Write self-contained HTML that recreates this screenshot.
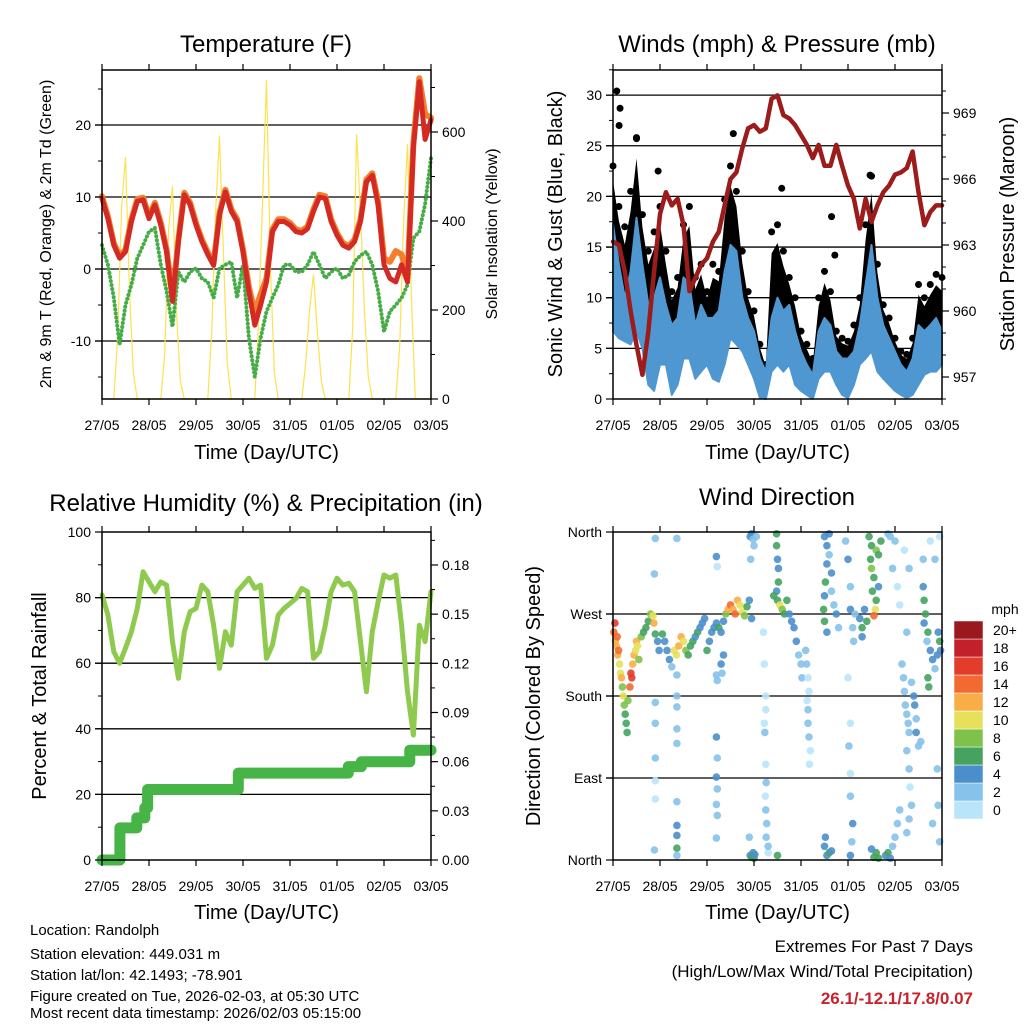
<!DOCTYPE html>
<html><head><meta charset="utf-8">
<style>
html,body{margin:0;padding:0;background:#fff;}
svg{display:block;font-family:"Liberation Sans",Arial,sans-serif;}
</style></head>
<body>
<svg id="root" width="1024" height="1024" viewBox="0 0 1024 1024" xmlns="http://www.w3.org/2000/svg"></svg>
<script>
// ---------- DATA (3-hour steps, day 0..7, 57 values) ----------
const tempRed = [9.8,7,3.3,1.5,2.4,6.6,9.4,9.6, 7,8.9,6.1,2.4,-4.5,3.8,10.3,8.9, 6.1,3.8,2,0.5,7.5,10.7,8,6.6, 2.4,-3.1,-7.8,-5,-1.8,5.2,6.6,6.6, 6.1,5.2,5,5.6,8,10,9.8,6.6, 4.7,3.3,2.9,3.8,6.6,12.1,13,8.9, 0.6,-1.3,-1.8,0.6,-1.8,16.8,26,18,20.7];
const tempOrange = [10.1,7.3,3.6,1.8,2.7,6.9,9.7,9.9, 7.3,9.2,6.4,2.7,-4,4.1,10.6,9.2, 6.4,4.1,2.3,0.8,7.8,11,8.3,6.9, 2.7,-2.5,-6,-3.5,-1.3,5.5,6.9,6.9, 6.4,5.5,5.3,5.9,8.3,10.3,10.1,6.9, 5,3.6,3.2,4.1,6.9,12.4,13.3,9.4, 1.5,1,2.5,2,-1,17.5,26.5,21.5,21];
const dewGreen = [3.3,0.6,-4,-10.5,-5,-2.2,1.5,3.3, 5.2,5.7,0.6,-3.1,-8,-0.4,-1.8,-0.4, 0.1,-1.3,-1.8,-4,0.1,0.6,1,-4, 0.6,-9.6,-15,-9.6,-5.9,-4,-2.2,0.6, 0.6,-0.4,-0.4,0.6,2.4,0.6,-1.3,-0.4, 0.1,-1.3,-0.8,1,1.9,2.4,0.6,-3.1, -8.7,-5.9,-5,-4,-2.2,4.3,5.2,9,15.4];
// solar insolation, 2-hour steps (85 values)
const solar = [0,0,0,0,140,430,544,250,60,0,0,0, 0,0,0,0,100,380,478,200,40,0,0,0, 0,0,0,0,150,420,590,330,80,0,0,0, 0,0,0,0,180,450,717,300,60,0,0,0, 0,0,0,0,80,200,280,150,40,0,0,0, 0,0,0,0,160,595,420,200,50,0,0,0, 0,0,0,0,120,400,573,230,0,0,0,0, 0];
const windHi = [17.2,13.3,10,12.6,17.9,13.3,9.3,10, 12,9.3,7.3,8,12,11.3,7.3,9.3, 8,8,8.7,12.6,15.2,14.6,10,8, 6.7,4,2.7,8,10,8.7,9.3,6.7, 4.7,3.4,2.4,6.7,8,7.3,4.7,4, 4,4.7,7.3,11.3,15.2,10,7.3,6, 4.7,3.4,2.7,4,7.3,6.7,7.3,8, 6.7];
const windLo = [6.7,6,5.7,5.4,6.7,5,1.4,0.8, 3.4,3.4,0.4,1.4,4,4,2,2.7, 3.4,2,1.7,3.4,6,5.4,4.7,3.4, 2,0.1,0,2.7,3.4,2.7,3.4,1.4, 0.8,0.4,0,2,2.7,2.7,1.4,0.4, 0.1,1.4,3.4,4,4.7,2.7,2,1.4, 0.8,0.4,0.1,0.4,1.4,2.4,2.7,2.7, 3.4];
const gustHi = [23,19,17,20.5,25.7,18.2,14.6,16.5, 19,14.6,10.6,12,17.2,19,12,13.3, 10.6,13.3,12.6,19.7,23,20.5,14.6,10.6, 8.7,5.4,3.4,16.5,17.2,14.6,12,10, 6.7,5.4,4,10,12.6,10.6,6.7,6, 5.7,7.3,10,17.2,22,13.3,9.3,8, 6,4.7,4.4,6,11.3,10,11.3,12.3, 12];
const gustOutlierDays = [0.08,0.15,0.13,0.5,0.96,2.56,3.59,4.65,4.72,5.47];
const gustOutlierMph = [30.4,28.7,27,25.8,22.5,26.2,20.8,18,14.2,22.1];
const pressure = [963.15,963,961.8,960,958.45,957.1,959.05,961.8, 964.4,965.4,964.8,965.1,963.9,960.9,961.5,962.1, 962.4,963.15,963.6,964.8,966,966.3,967.4,968.3, 968.45,968.15,968.3,969.65,969.8,968.9,968.75,968.45, 968,967.55,966.95,967.55,966.6,966.6,967.55,966.6, 965.7,965.1,963.75,965.1,964.05,964.8,965.4,965.7, 966.2,966.3,966.5,967.25,965.4,963.9,964.5,964.8, 964.8];
const humidity = [80.8,74.7,63.5,60,64.6,69.6,76.7,87.9, 84.8,81.8,84.8,83.8,66.6,55.4,69.6,75.7, 76.7,83.8,81.8,71.6,58.4,69.6,65.5,81.8, 83.8,85.9,82.8,83.8,61.5,65.5,74.7,76.7, 78.2,79.7,82.8,81.8,61.5,63.5,71.6,81.8, 85.9,83.8,84.4,81.8,66.6,51.3,69.6,78.7, 86.9,85.9,86.9,71.6,51.3,38.1,71.6,66.6,81.8];
const precipDays = [0,0.38,0.74,0.91,0.97,2.9,5.24,5.52,6.55,7];
const precipTotals = [0,0.0196,0.0257,0.0318,0.043,0.053,0.057,0.060,0.067,0.067];
// wind direction observations: [day, degrees, mph]
const dirObs = [
[0.02,250,14],[0.04,260,16],[0.05,240,12],[0.07,235,13],[0.09,245,15],[0.1,225,12],[0.12,230,14],[0.14,215,11],[0.16,205,10],[0.18,200,12],[0.2,190,9],[0.22,180,10],[0.24,170,8],[0.26,160,7],[0.28,150,7],[0.3,140,6],[0.32,175,8],[0.36,190,15],[0.38,205,17],[0.4,200,16],[0.42,215,12],[0.45,225,13],[0.48,230,11],[0.5,240,12],[0.52,235,10],[0.55,220,9],[0.6,245,8],[0.65,250,7],[0.7,255,7],[0.75,262,7],[0.8,270,9],[0.85,268,11],[0.87,260,12],[0.9,248,7],[0.95,240,5],[0.98,230,4],
[0.9,353,3],[0.88,314,3],[0.9,173,3],[0.9,150,3],[0.9,112,2],[0.9,87,1],[0.9,67,1],[0.88,11,2],
[1.05,248,6],[1.1,240,5],[1.15,230,4],[1.2,220,4],[1.25,212,3],[1.3,230,10],[1.35,225,11],[1.4,235,12],[1.45,245,12],[1.5,240,10],[1.55,230,9],[1.6,225,6],[1.65,235,7],[1.7,240,6],[1.75,245,5],[1.8,250,6],[1.85,255,4],[1.9,260,5],[1.95,265,4],
[1.36,353,3],[1.36,203,3],[1.36,180,2],[1.36,168,3],[1.36,144,2],[1.36,128,2],[1.36,64,3],[1.36,38,4],[1.36,27,4],[1.36,13,6],[1.36,5,2],
[2.2,333,4],[2.22,322,1],[2.2,203,2],[2.22,197,2],[2.2,135,4],[2.22,112,3],[2.2,91,4],[2.22,78,2],[2.2,61,3],[2.22,49,3],[2.2,24,2],
[2.0,230,6],[2.05,240,5],[2.1,250,4],[2.15,255,5],[2.2,260,4],[2.25,255,6],[2.3,250,5],[2.35,262,4],[2.4,270,9],[2.45,275,12],[2.5,280,14],[2.55,275,13],[2.6,270,15],[2.65,285,12],[2.7,280,11],[2.75,272,10],[2.8,268,8],[2.85,278,6],[2.9,285,5],[2.95,265,4],[2.3,215,4],[2.32,205,3],[2.35,225,5],
[2.92,355,4],[2.95,358,4],[2.98,352,3],[3.0,345,2],[3.05,355,2],[2.93,330,3],
[2.92,5,4],[2.95,3,6],[2.98,8,5],[3.0,2,6],[3.02,6,5],[2.9,25,3],
[3.2,250,1],[3.22,215,1],[3.25,180,1],[3.25,165,1],[3.22,150,1],[3.23,140,2],[3.25,105,1],[3.26,85,2],[3.24,70,1],[3.25,55,2],[3.27,40,3],[3.26,25,2],[3.3,8,1],[3.3,15,2],
[3.48,358,6],[3.48,345,6],[3.5,330,5],[3.52,320,5],[3.52,305,6],[3.48,295,4],[3.5,285,7],[3.55,280,10],[3.6,275,8],[3.65,270,7],[3.7,285,6],[3.75,270,5],[3.8,262,4],[3.85,255,4],[3.9,240,4],[3.95,225,3],[4.0,215,2],[4.02,200,2],[3.42,290,7],[3.5,5,6],
[4.1,230,2],[4.12,215,2],[4.15,200,1],[4.17,185,1],[4.15,150,2],[4.17,135,3],[4.2,120,1],[4.18,105,1],[4.13,175,1],[4.15,165,2],
[4.5,355,4],[4.55,345,4],[4.6,358,4],[4.55,325,5],[4.52,305,6],[4.5,290,5],[4.48,275,6],[4.5,262,6],[4.55,250,5],[4.6,335,3],[4.65,315,4],[4.65,295,3],[4.7,280,3],[4.75,270,4],[4.8,255,3],[4.5,15,4],[4.55,5,5],[4.6,8,6],[4.52,25,4],[4.65,10,4],
[4.95,350,2],[5.0,330,4],[5.05,300,3],[5.05,275,4],[5.1,255,2],[5.0,200,1],[5.05,150,1],[5.02,125,2],[5.05,95,1],[5.05,70,3],[5.1,40,4],[5.08,20,3],[5.05,5,4],[5.12,240,3],[5.15,270,3],
[5.25,265,5],[5.3,255,6],[5.3,245,4],[5.35,275,5],[5.4,262,6],[5.45,355,6],[5.5,345,7],[5.48,330,6],[5.5,320,8],[5.55,310,7],[5.52,295,6],[5.6,285,7],[5.58,275,10],[5.55,268,14],[5.6,340,8],[5.65,335,6],[5.65,300,5],[5.7,350,7],[5.55,3,7],[5.6,8,6],[5.65,2,6],[5.5,12,4],
[5.85,358,3],[5.9,355,3],[6.0,350,2],[5.95,320,2],[6.05,300,1],[6.1,280,1],[5.8,5,5],[5.85,8,6],[5.9,2,4],[5.95,15,3],[6.0,25,2],[6.05,40,2],[6.1,55,2],
[6.15,215,3],[6.18,200,2],[6.2,185,3],[6.22,170,3],[6.25,160,2],[6.28,150,3],[6.3,140,2],[6.25,120,3],[6.3,100,2],[6.32,80,1],[6.35,60,3],[6.3,45,2],[6.25,30,2],[6.4,180,4],[6.42,170,4],[6.45,155,3],[6.45,140,4],[6.5,125,3],[6.35,195,3],[6.55,130,2],[6.2,340,1],[6.3,320,2],[6.25,250,2],
[6.6,300,5],[6.62,285,6],[6.65,270,6],[6.62,260,5],[6.7,250,6],[6.68,240,3],[6.75,230,4],[6.8,220,4],[6.85,210,3],[6.9,225,5],[6.95,240,6],[6.97,230,5],[6.92,250,4],[6.7,200,6],[6.72,190,6],[6.75,350,1],[6.85,330,2],[6.95,355,1],[6.9,100,2],[6.92,60,3],[6.8,40,2],[6.95,20,2],[6.6,330,2]
];
const dayLabels = ["27/05","28/05","29/05","30/05","31/05","01/05","02/05","03/05"];
const speedLabels = ["0","2","4","6","8","10","12","14","16","18","20+"];
const speedColors = ["#bae4f9","#86c2ea","#4a8fcb","#45a35f","#7ec24b","#e6e05a","#f9ad47","#f26a32","#e23c2b","#c2202a","#9a191d"];

// ---------- helpers ----------
const NS = "http://www.w3.org/2000/svg";
const root = document.getElementById("root");
function mk(tag, attrs, parent){
  const e = document.createElementNS(NS, tag);
  for (const k in attrs) e.setAttribute(k, attrs[k]);
  (parent||root).appendChild(e);
  return e;
}
function txt(str, x, y, size, anchor, parent, extra){
  const a = {x:x, y:y, "font-size":size, "text-anchor":anchor||"middle", fill:"#000"};
  if (extra) for (const k in extra) a[k]=extra[k];
  const t = mk("text", a, parent);
  t.textContent = str;
  return t;
}
function lineStr(xs, ys){ return xs.map((x,i)=>(i?"L":"M")+x.toFixed(1)+","+ys[i].toFixed(1)).join(""); }

function makePanel(name, x0, x1, y0, y1){
  const g = mk("g", {});
  
  
  return {g, x0, x1, y0, y1, xs: d => x0 + d*(x1-x0)/7};
}
function frame(p){
  const r = mk("rect", {x:p.x0, y:p.y0, width:p.x1-p.x0, height:p.y1-p.y0, fill:"none", stroke:"#000", "stroke-width":1.5}, p.g);
  
  
}
function xAxis(p, labelY, titleY){
  const g = mk("g", {}, p.g);
  
  
  dayLabels.forEach((lab,i)=>{
    const x = p.xs(i);
    mk("line",{x1:x,x2:x,y1:p.y1,y2:p.y1+6,stroke:"#000","stroke-width":1.2},g);
    mk("line",{x1:x,x2:x,y1:p.y0,y2:p.y0-6,stroke:"#000","stroke-width":1.2},g);
    const t = txt(lab, x, labelY, 14, "middle", g);
    
    
  });
  const tt = txt("Time (Day/UTC)", (p.x0+p.x1)/2, titleY, 20, "middle", g);
  
  
}
function yAxis(p, side, scale, majors, labels, minors, name){
  const g = mk("g", {}, p.g);
  
  
  const xe = side==="left" ? p.x0 : p.x1;
  const dir = side==="left" ? -1 : 1;
  majors.forEach((v,i)=>{
    const y = scale(v);
    mk("line",{x1:xe,x2:xe+dir*7,y1:y,y2:y,stroke:"#000","stroke-width":1.2},g);
    const t = txt(labels[i], xe+dir*11, y+5, 14, side==="left"?"end":"start", g);
    
    
  });
  minors.forEach(v=>{
    const y = scale(v);
    if (y < p.y0-0.5 || y > p.y1+0.5) return;
    mk("line",{x1:xe,x2:xe+dir*4,y1:y,y2:y,stroke:"#000","stroke-width":1},g);
  });
}
function grid(p, ys){
  const g = mk("g", {}, p.g);
  
  
  ys.forEach(y=>mk("line",{x1:p.x0-7,x2:p.x1,y1:y,y2:y,stroke:"#000","stroke-width":1.3},g));
}
function vtitle(str, x, y, size, parent, name){
  const t = txt(str, x, y, size, "middle", parent, {transform:`rotate(-90 ${x} ${y})`});
  
  
}
function title(str, x, y, name){
  const t = txt(str, x, y, 24, "middle");
  
  
}
const days3h = tempRed.map((_,i)=>i/8);

// ---------- Panel 1: Temperature ----------
(function(){
  const p = makePanel("temperature-panel", 102, 431, 70, 399);
  const ty = t => 269 - 7.2*t;
  const sy = w => 399 - 0.445*w;
  grid(p, [-10,0,10,20].map(ty));
  const xsS = solar.map((_,i)=>p.xs(i/12));
  const sol = mk("path",{d:lineStr(xsS, solar.map(sy)), fill:"none", stroke:"#fde24f","stroke-width":1.2}, p.g);
  
  
  const xs = days3h.map(p.xs);
  const dg = mk("path",{d:lineStr(xs, dewGreen.map(ty)), fill:"none", stroke:"#46ad46","stroke-width":4,"stroke-dasharray":"0.1 4","stroke-linecap":"round","stroke-linejoin":"round"}, p.g);
  
  
  const o = mk("path",{d:lineStr(xs, tempOrange.map(ty)), fill:"none", stroke:"#f47e2b","stroke-width":6,"stroke-linejoin":"round","stroke-linecap":"round"}, p.g);
  
  
  const r = mk("path",{d:lineStr(xs, tempRed.map(ty)), fill:"none", stroke:"#d42a24","stroke-width":5,"stroke-linejoin":"round","stroke-linecap":"round"}, p.g);
  
  
  frame(p);
  yAxis(p,"left",ty,[-10,0,10,20],["-10","0","10","20"],[-15,-5,5,15,25],"temp-y-axis");
  yAxis(p,"right",sy,[0,200,400,600],["0","200","400","600"],[100,300,500,700],"solar-y-axis");
  xAxis(p, 430, 459);
  vtitle("2m & 9m T (Red, Orange) & 2m Td (Green)", 51, 234, 16, p.g, "temp-y-axis-title");
  vtitle("Solar Insolation (Yellow)", 497, 234, 16, p.g, "solar-y-axis-title");
  title("Temperature (F)", 266, 52, "temperature-title");
})();

// ---------- Panel 2: Winds & Pressure ----------
(function(){
  const p = makePanel("wind-pressure-panel", 613, 942, 70, 399);
  const wy = w => 399 - 10.13*w;
  const py = v => 377 - 22*(v-957);
  grid(p, [5,10,15,20,25,30].map(wy));
  const xs = days3h.map(p.xs);
  const xsR = xs.slice().reverse();
  const blackTop = gustHi.map((g,i)=>windHi[i] + 0.75*(g-windHi[i]));
  const bl = mk("path",{d:lineStr(xs.concat(xsR), blackTop.map(wy).concat(windHi.map(v=>wy(v-1)).reverse()))+"Z", fill:"#000"}, p.g);
  
  
  gustHi.forEach((g,i)=>{
    const c = mk("circle",{cx:xs[i], cy:wy(g), r:3.5, fill:"#000"}, p.g);
    
    
  });
  gustOutlierDays.forEach((d,i)=>{
    const c = mk("circle",{cx:p.xs(d), cy:wy(gustOutlierMph[i]), r:3.5, fill:"#000"}, p.g);
    
    
  });
  const bu = mk("path",{d:lineStr(xs.concat(xsR), windHi.map(wy).concat(windLo.map(wy).reverse()))+"Z", fill:"#4f97d1", stroke:"#4f97d1","stroke-width":2,"stroke-linejoin":"round"}, p.g);
  
  
  const pr = mk("path",{d:lineStr(xs, pressure.map(py)), fill:"none", stroke:"#9c1c1c","stroke-width":4.5,"stroke-linejoin":"round","stroke-linecap":"round"}, p.g);
  
  
  frame(p);
  yAxis(p,"left",wy,[0,5,10,15,20,25,30],["0","5","10","15","20","25","30"],[2.5,7.5,12.5,17.5,22.5,27.5,32.5],"wind-y-axis");
  const pm=[];for(let v=956;v<=971;v++)pm.push(v);
  yAxis(p,"right",py,[957,960,963,966,969],["957","960","963","966","969"],pm,"pressure-y-axis");
  xAxis(p, 430, 459);
  vtitle("Sonic Wind & Gust (Blue, Black)", 562, 234, 20, p.g, "wind-y-axis-title");
  vtitle("Station Pressure (Maroon)", 1014, 234, 20, p.g, "pressure-y-axis-title");
  title("Winds (mph) & Pressure (mb)", 777, 52, "winds-title");
})();

// ---------- Panel 3: RH & Precip ----------
(function(){
  const p = makePanel("humidity-precip-panel", 102, 431, 532, 860);
  const hy = h => 860 - 3.28*h;
  const ry = r => 860 - r*1639;
  grid(p, [20,40,60,80].map(hy));
  const xs = days3h.map(p.xs);
  const rh = mk("path",{d:lineStr(xs, humidity.map(hy)), fill:"none", stroke:"#8fca4f","stroke-width":5,"stroke-linejoin":"round","stroke-linecap":"round"}, p.g);
  
  
  let d = "M"+p.xs(precipDays[0])+","+ry(precipTotals[0]);
  for (let i=1;i<precipDays.length;i++){
    d += "L"+p.xs(precipDays[i]).toFixed(1)+","+ry(precipTotals[i-1]).toFixed(1);
    d += "L"+p.xs(precipDays[i]).toFixed(1)+","+ry(precipTotals[i]).toFixed(1);
  }
  const pc = mk("path",{d:d, fill:"none", stroke:"#46b446","stroke-width":11,"stroke-linejoin":"round","stroke-linecap":"round"}, p.g);
  
  
  frame(p);
  yAxis(p,"left",hy,[0,20,40,60,80,100],["0","20","40","60","80","100"],[10,30,50,70,90],"humidity-y-axis");
  yAxis(p,"right",ry,[0,0.03,0.06,0.09,0.12,0.15,0.18],["0.00","0.03","0.06","0.09","0.12","0.15","0.18"],[0.015,0.045,0.075,0.105,0.135,0.165,0.195],"precip-y-axis");
  xAxis(p, 891, 919);
  vtitle("Percent & Total Rainfall", 46, 696, 20, p.g, "humidity-y-axis-title");
  title("Relative Humidity (%) & Precipitation (in)", 266, 511, "humidity-title");
})();

// ---------- Panel 4: Wind Direction ----------
(function(){
  const p = makePanel("wind-direction-panel", 613, 942, 532, 860);
  const dy = a => 860 - a*328/360;
  grid(p, [90,180,270].map(dy));
  const bin = s => Math.max(0, Math.min(10, Math.floor(s/2)));
  dirObs.forEach(o=>{
    const c = mk("circle",{cx:p.xs(o[0]).toFixed(1), cy:dy(o[1]).toFixed(1), r:3.8, fill:speedColors[bin(o[2])], "fill-opacity":0.9}, p.g);
    
    
  });
  frame(p);
  yAxis(p,"left",dy,[0,90,180,270,360],["North","East","South","West","North"],[],"direction-y-axis");
  xAxis(p, 891, 919);
  vtitle("Direction (Colored By Speed)", 540, 696, 20, p.g, "direction-y-axis-title");
  title("Wind Direction", 777, 505, "wind-direction-title");
  const cb = mk("g", {});
  
  
  const top = 621, h = 18;
  speedColors.forEach((col,i)=>{
    const y = top + (10-i)*h;
    const r = mk("rect",{x:954,y:y,width:29,height:h,fill:col,stroke:"#fff","stroke-width":0.5}, cb);
    
    
    const t = txt(speedLabels[i], 993, y+h/2+5, 14, "start", cb);
    
    
  });
  const u = txt("mph", 1005, 614, 14, "middle", cb);
  
  
})();

// ---------- Footer ----------
(function(){
  const g = mk("g", {});
  
  
  const lines = ["Location: Randolph","Station elevation: 449.031 m","Station lat/lon: 42.1493; -78.901","Figure created on Tue, 2026-02-03, at 05:30 UTC","Most recent data timestamp: 2026/02/03 05:15:00"];
  const ys = [935,959,980,1001,1018];
  lines.forEach((s,i)=>{
    const t = txt(s, 30, ys[i], 15, "start", g);
    
    
  });
  const e = mk("g", {});
  
  
  const a = txt("Extremes For Past 7 Days", 973, 952, 17, "end", e);
  
  
  const b = txt("(High/Low/Max Wind/Total Precipitation)", 973, 977, 17, "end", e);
  
  
  const c = txt("26.1/-12.1/17.8/0.07", 973, 1004, 17, "end", e, {fill:"#c8232c","font-weight":"bold"});
  
  
})();
</script>
</body></html>
